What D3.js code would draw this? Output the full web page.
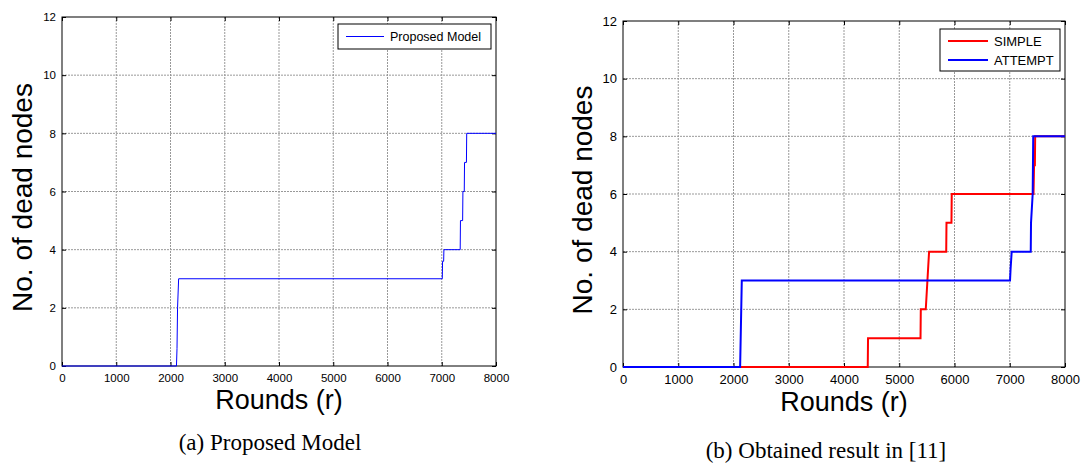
<!DOCTYPE html>
<html lang="en">

<head>
    <meta charset="UTF-8">
    <title>Dead nodes vs rounds</title>
    <script src="https://d3js.org/d3.v7.min.js"></script>
    <style>
        body {
            margin: 0;
            background: #fff;
        }

        svg text {
            font-family: 'Liberation Sans', Arial, sans-serif;
            fill: #000;
        }

        .caption {
            font-family: 'Liberation Serif', 'Times New Roman', serif !important;
        }
    </style>
</head>

<body>
    <svg width="1088" height="464"></svg>

    <script>
        // axis ticks
        const xTicks = [0, 1000, 2000, 3000, 4000, 5000, 6000, 7000, 8000];
        const yTicks = [0, 2, 4, 6, 8, 10, 12];

        // (a) proposed model
        const proposedRounds = [0, 2110, 2120, 2130, 2150, 7010, 7015, 7035, 7040, 7340, 7345, 7385, 7390, 7415, 7420, 7455, 7460, 8000];
        const proposedDead = [0, 0, 0.6, 2, 3, 3, 3.6, 3.6, 4, 4, 5, 5, 6, 6, 7, 7, 8, 8];

        // (b) obtained result in [11]
        const simpleRounds = [0, 4430, 4435, 5385, 5390, 5480, 5510, 5540, 5850, 5855, 5945, 5950, 7430, 7440, 7455, 7460, 8000];
        const simpleDead = [0, 0, 1, 1, 2, 2, 3, 4, 4, 5, 5, 6, 6, 7, 7, 8, 8];
        const attemptRounds = [0, 2120, 2130, 2150, 7005, 7015, 7035, 7380, 7385, 7415, 7425, 8000];
        const attemptDead = [0, 0, 1, 3, 3, 3.4, 4, 4, 5, 6, 8, 8];

        const svg = d3.select("svg");

        function drawPanel(p) {
            const x = d3.scaleLinear().domain([0, 8000]).range([p.left, p.right]);
            const y = d3.scaleLinear().domain([0, 12]).range([p.bottom, p.top]);
            const g = svg.append("g");

            // grid
            g.append("g").selectAll("line.gx")
                .data(xTicks.slice(1, -1))
                .join("line")
                .attr("x1", d => x(d)).attr("x2", d => x(d))
                .attr("y1", p.top).attr("y2", p.bottom)
                .attr("stroke", "#999").attr("stroke-dasharray", "2 1");
            g.append("g").selectAll("line.gy")
                .data(yTicks.slice(1, -1))
                .join("line")
                .attr("x1", p.left).attr("x2", p.right)
                .attr("y1", d => y(d)).attr("y2", d => y(d))
                .attr("stroke", "#999").attr("stroke-dasharray", "2 1");

            // axes (ticks point inward, MATLAB style)
            const bottom = g.append("g")
                .attr("transform", `translate(0,${p.bottom})`)
                .call(d3.axisBottom(x).tickValues(xTicks).tickSize(-4).tickPadding(8).tickFormat(d3.format("d")));
            bottom.selectAll("text").style("font-size", p.tickFont + "px").attr("dy", "0.71em");
            const left = g.append("g")
                .attr("transform", `translate(${p.left},0)`)
                .call(d3.axisLeft(y).tickValues(yTicks).tickSize(-4).tickPadding(6));
            left.selectAll("text").style("font-size", p.tickFont + "px");
            g.append("g").attr("transform", `translate(0,${p.top})`)
                .call(d3.axisTop(x).tickValues(xTicks).tickSize(-4).tickFormat(""));
            g.append("g").attr("transform", `translate(${p.right},0)`)
                .call(d3.axisRight(y).tickValues(yTicks).tickSize(-4).tickFormat(""));
            g.selectAll(".domain").remove();
            g.selectAll(".tick line").attr("stroke", "#000");

            g.append("rect")
                .attr("x", p.left).attr("y", p.top)
                .attr("width", p.right - p.left).attr("height", p.bottom - p.top)
                .attr("fill", "none").attr("stroke", "#000");

            // series
            const line = d3.line().x(d => x(d[0])).y(d => y(d[1]));
            p.series.forEach(s => {
                g.append("path")
                    .datum(d3.zip(s.rounds, s.dead))
                    .attr("fill", "none")
                    .attr("stroke", s.color)
                    .attr("stroke-width", p.lineWidth)
                    .attr("d", line);
            });

            // legend
            const lg = g.append("g");
            lg.append("rect")
                .attr("x", p.legend.x).attr("y", p.legend.y)
                .attr("width", p.legend.w).attr("height", p.legend.h)
                .attr("fill", "#fff").attr("stroke", "#000");
            p.legendOrder.forEach((s, i) => {
                const cy = p.legend.y + p.legend.rowStart + i * p.legend.rowGap;
                lg.append("line")
                    .attr("x1", p.legend.x + 8).attr("x2", p.legend.x + 8 + p.legend.lineLen)
                    .attr("y1", cy).attr("y2", cy)
                    .attr("stroke", s.color).attr("stroke-width", p.lineWidth);
                lg.append("text")
                    .attr("x", p.legend.x + 8 + p.legend.lineLen + 6)
                    .attr("y", cy).attr("dy", "0.35em")
                    .style("font-size", p.legendFont + "px")
                    .text(s.name);
            });

            // axis titles
            g.append("text")
                .attr("x", (p.left + p.right) / 2).attr("y", p.xLabelY)
                .attr("text-anchor", "middle").attr("dy", "0.35em")
                .style("font-size", "27px")
                .text("Rounds (r)");
            g.append("text")
                .attr("transform", `translate(${p.yLabelX},${(p.top + p.bottom) / 2 + 6}) rotate(-90)`)
                .attr("text-anchor", "middle").attr("dy", "0.35em")
                .style("font-size", "28px")
                .text("No. of dead nodes");

            // caption
            g.append("text")
                .attr("class", "caption")
                .attr("x", p.captionX).attr("y", p.captionY)
                .attr("text-anchor", "middle")
                .style("font-size", "23px")
                .text(p.caption);
        }

        const proposed = { name: "Proposed Model", color: "#0000ff", rounds: proposedRounds, dead: proposedDead };
        const simple = { name: "SIMPLE", color: "#ff0000", rounds: simpleRounds, dead: simpleDead };
        const attempt = { name: "ATTEMPT", color: "#0000ff", rounds: attemptRounds, dead: attemptDead };

        drawPanel({
            left: 62, right: 496, top: 17, bottom: 366,
            tickFont: 11.5, lineWidth: 1, legendFont: 12.5,
            series: [proposed], legendOrder: [proposed],
            legend: { x: 338, y: 24, w: 153, h: 25, rowStart: 12.5, rowGap: 0, lineLen: 38 },
            xLabelY: 400, yLabelX: 22,
            caption: "(a) Proposed Model", captionX: 270, captionY: 450
        });

        drawPanel({
            left: 623, right: 1065, top: 21, bottom: 367,
            tickFont: 13, lineWidth: 2, legendFont: 13,
            series: [simple, attempt], legendOrder: [simple, attempt],
            legend: { x: 940, y: 29, w: 120, h: 42, rowStart: 12, rowGap: 19, lineLen: 40 },
            xLabelY: 402, yLabelX: 582,
            caption: "(b) Obtained result in [11]", captionX: 826, captionY: 458
        });
    </script>
</body>

</html>
